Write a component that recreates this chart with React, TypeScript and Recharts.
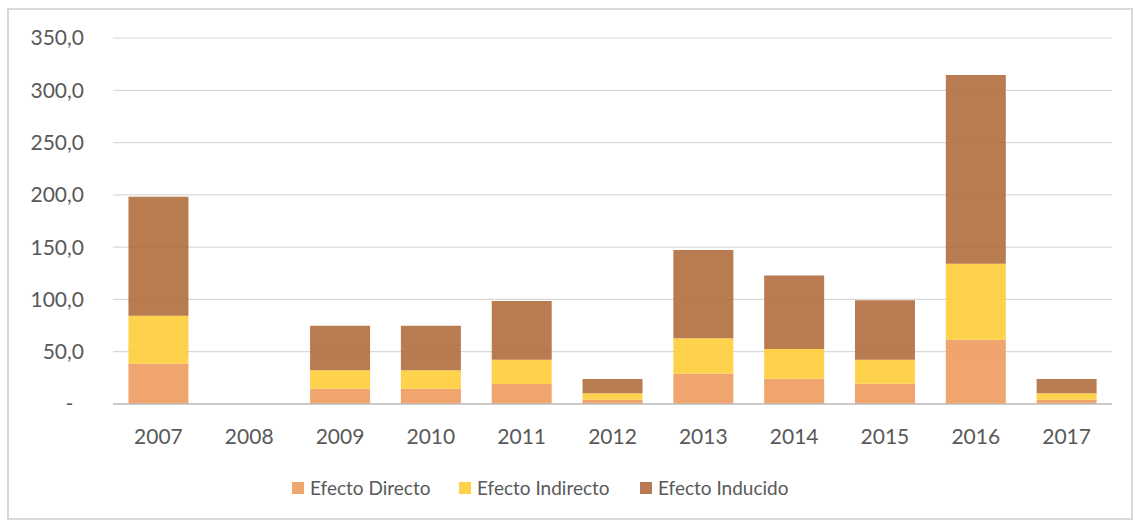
import React from "react";
import { BarChart, Bar, XAxis, YAxis, CartesianGrid, Legend } from "recharts";

const years = ["2007", "2008", "2009", "2010", "2011", "2012", "2013", "2014", "2015", "2016", "2017"];
const directo = [38.5, 0, 14.6, 14.6, 19.2, 4.1, 29.0, 24.2, 19.4, 61.5, 4.1];
const indirecto = [45.9, 0, 17.6, 17.6, 23.0, 6.1, 33.8, 28.4, 23.0, 72.7, 6.1];
const inducido = [113.9, 0, 42.7, 42.7, 56.3, 13.7, 84.5, 70.4, 56.8, 180.4, 13.7];
const yTicks = [0, 50, 100, 150, 200, 250, 300, 350];

const seriesNames = ["Efecto Directo", "Efecto Indirecto", "Efecto Inducido"];
const seriesColors = ["#EE9A5E", "#FFCD39", "#B16E3E"];

const data = years.map((y, i) => ({
  year: y,
  directo: directo[i],
  indirecto: indirecto[i],
  inducido: inducido[i],
}));

const FONT = "Lato, 'Open Sans', sans-serif";
const TEXT = "#595959";

const fmt = (v: number) => (v === 0 ? "-\u00A0\u00A0" : v.toFixed(1).replace(".", ","));

const LegendContent = () => (
  <div style={{ position: "relative", height: 26, fontFamily: FONT, fontSize: 19, color: TEXT }}>
    {seriesNames.map((n, i) => (
      <div
        key={n}
        style={{
          position: "absolute",
          left: [292, 459, 640][i],
          top: 0,
          display: "flex",
          alignItems: "center",
          whiteSpace: "nowrap",
        }}
      >
        <span
          style={{
            display: "inline-block",
            width: 12,
            height: 12,
            background: seriesColors[i],
            opacity: 0.9,
            marginRight: 6,
          }}
        />
        <span>{n}</span>
      </div>
    ))}
  </div>
);

export default function App() {
  return (
    <div style={{ position: "absolute", left: 0, top: 0, width: 1134, height: 520, background: "#fff" }}>
      <div
        style={{
          position: "absolute",
          left: 7,
          top: 8,
          width: 1122,
          height: 508,
          border: "2px solid #d9d9d9",
        }}
      />
      <div style={{ position: "absolute", left: 0, top: 0 }}>
        <BarChart
          width={1134}
          height={520}
          data={data}
          margin={{ top: 38, right: 22, left: 0, bottom: 60 }}
          barCategoryGap="17%"
        >
          <CartesianGrid vertical={false} stroke="#d9d9d9" strokeWidth={1.2} />
          <XAxis
            dataKey="year"
            axisLine={{ stroke: "#bfbfbf", strokeWidth: 1.5 }}
            tickLine={false}
            tickSize={0}
            tickMargin={25}
            height={30}
            tick={{ fill: TEXT, fontSize: 21, fontFamily: FONT }}
            interval={0}
          />
          <YAxis
            width={113}
            domain={[0, 350]}
            ticks={yTicks}
            tickFormatter={fmt}
            axisLine={false}
            tickLine={false}
            tickSize={0}
            tickMargin={29}
            interval={0}
            tick={{ fill: TEXT, fontSize: 21, fontFamily: FONT }}
          />
          <Legend content={<LegendContent />} wrapperStyle={{ left: 0, top: 476, width: 1134 }} />
          <Bar dataKey="directo" name={seriesNames[0]} stackId="a" fill={seriesColors[0]} fillOpacity={0.9} isAnimationActive={false} />
          <Bar dataKey="indirecto" name={seriesNames[1]} stackId="a" fill={seriesColors[1]} fillOpacity={0.9} isAnimationActive={false} />
          <Bar dataKey="inducido" name={seriesNames[2]} stackId="a" fill={seriesColors[2]} fillOpacity={0.9} isAnimationActive={false} />
        </BarChart>
      </div>
    </div>
  );
}
